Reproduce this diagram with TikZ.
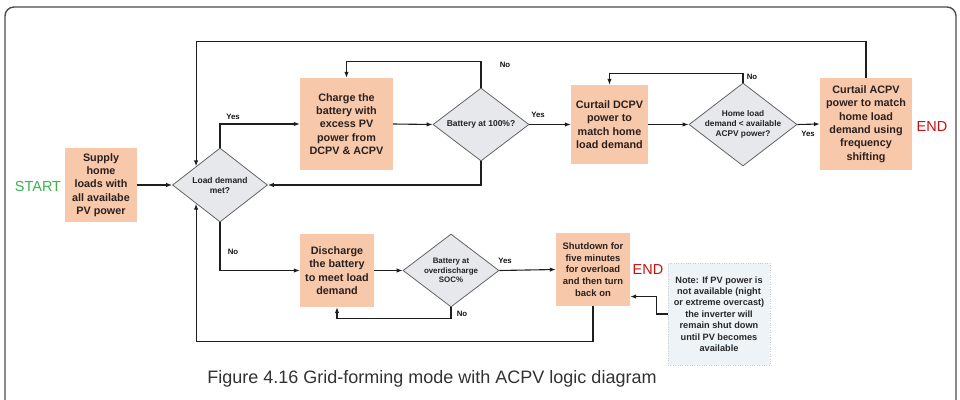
\documentclass[tikz,border=0pt]{standalone}
\usepackage{fontspec}
\setmainfont{Liberation Sans}
\usetikzlibrary{shapes.geometric,arrows.meta,calc}

\begin{document}
\begin{tikzpicture}[x=1pt,y=1pt,yscale=-1,xscale=1,
	procbox/.style={fill={rgb, 255:red, 247; green, 200; blue, 170 }, inner sep=0pt, align=center, text={rgb, 255:red, 42; green, 32; blue, 32 }, font=\bfseries\fontsize{10.8}{13.3}\selectfont},
	decision/.style={shape=diamond, draw={rgb, 255:red, 100; green, 100; blue, 100 }, line width=0.8pt, fill={rgb, 255:red, 231; green, 232; blue, 235 }, inner sep=-3pt, align=center, text={rgb, 255:red, 35; green, 35; blue, 35 }, font=\bfseries\fontsize{8.5}{10}\selectfont},
	notebox/.style={fill={rgb, 255:red, 238; green, 243; blue, 248 }, draw={rgb, 255:red, 205; green, 205; blue, 205 }, dotted, inner sep=0pt, align=center, text={rgb, 255:red, 40; green, 40; blue, 40 }, font=\bfseries\fontsize{9.2}{11.4}\selectfont},
	flow/.style={draw={rgb, 255:red, 30; green, 30; blue, 30 }, line width=1.1pt, -{Latex[length=6pt,width=4.5pt]}},
	answer/.style={inner sep=0.75pt, text={rgb, 255:red, 20; green, 20; blue, 20 }, font=\bfseries\fontsize{7.8}{9}\selectfont},
	endmark/.style={inner sep=0.75pt, text={rgb, 255:red, 200; green, 16; blue, 16 }, font=\fontsize{14.5}{16}\selectfont}
	]
	\useasboundingbox (0,0) rectangle (960,399);
	
	%Shape: Rounded Rect
	\draw [color={rgb, 255:red, 75; green, 75; blue, 75 }, line width=1.4pt, rounded corners=9pt] (5,7) rectangle (956,420);
	
	%Shape: Rectangle
	\draw (101,185) node [procbox, minimum width=72pt, minimum height=74pt] (supply) {Supply\\home\\loads with\\all availabe\\PV power};
	%Shape: Rectangle
	\draw (346.5,124) node [procbox, minimum width=93pt, minimum height=92pt] (charge) {Charge the\\battery with\\excess PV\\power from\\DCPV \& ACPV};
	%Shape: Rectangle
	\draw (609.5,124.5) node [procbox, minimum width=77pt, minimum height=79pt] (dcpv) {Curtail DCPV\\power to\\match home\\load demand};
	%Shape: Rectangle
	\draw (866,124) node [procbox, minimum width=92pt, minimum height=92pt] (acpv) {Curtail ACPV\\power to match\\home load\\demand using\\frequency\\shifting};
	%Shape: Rectangle
	\draw (337,270.5) node [procbox, minimum width=74pt, minimum height=73pt] (discharge) {Discharge\\the battery\\to meet load\\demand};
	%Shape: Rectangle
	\draw (593,269.5) node [procbox, minimum width=74pt, minimum height=73pt, font=\bfseries\fontsize{9.4}{11.7}\selectfont] (shutdown) {Shutdown for\\five minutes\\for overload\\and then turn\\back on};
	%Shape: Rectangle
	\draw (719,314) node [notebox, minimum width=102pt, minimum height=102pt] (note) {Note: If PV power is\\not available (night\\or extreme overcast)\\the inverter will\\remain shut down\\until PV becomes\\available};
	
	%Shape: Diamond
	\draw (220,185) node [decision, minimum width=95pt, minimum height=74pt] (ld) {Load demand\\met?};
	%Shape: Diamond
	\draw (481,124.5) node [decision, minimum width=96pt, minimum height=73pt] (full) {Battery at 100\%?};
	%Shape: Diamond
	\draw (743,124.5) node [decision, minimum width=108pt, minimum height=83pt, inner sep=-6.5pt, font=\bfseries\fontsize{8.3}{10}\selectfont] (homeload) {Home load\\demand < available\\ACPV power?};
	%Shape: Diamond
	\draw (451,270.5) node [decision, minimum width=96pt, minimum height=73pt, font=\bfseries\fontsize{7.9}{9.6}\selectfont] (overdis) {Battery at\\overdischarge\\SOC\%};
	
	\coordinate (ldin) at ($(ld.west)!0.5!(ld.north)$);
	\coordinate (ldout) at ($(ld.west)!0.5!(ld.south)$);
	
	%Straight Lines
	\draw [flow] (supply.east) -- (ld.west);
	\draw [flow] (ld.north) |- (charge.west);
	\draw [flow] (charge.east) -- (full.west);
	\draw [flow] (full.north) -- ++(0,-26) -| (charge.north);
	\draw [flow] (full.south) |- (ld.east);
	\draw [flow] (full.east) -- (dcpv.west);
	\draw [flow] (dcpv.east) -- (homeload.west);
	\draw [flow] (homeload.north) -- ++(0,-9) -| (dcpv.north);
	\draw [flow] (homeload.east) -- (acpv.west);
	\draw [flow] (acpv.north) -- ++(0,-36) -| (ldin);
	\draw [flow] (ld.south) |- (discharge.west);
	\draw [flow] (discharge.east) -- (overdis.west);
	\draw [flow] (overdis.east) -- (shutdown.west);
	\draw [flow] (overdis.south) -- ++(0,11) -| (discharge.south);
	\draw [flow] (shutdown.south) -- ++(0,35) -| (ldout);
	\draw [flow] (note.west) -- ++(-11,0) |- (shutdown.-36.6);
	
	% Text Node
	\draw (38,187) node [inner sep=0.75pt, text={rgb, 255:red, 60; green, 178; blue, 75 }, font=\fontsize{14.5}{16}\selectfont] (start) {START};
	% Text Node
	\draw (932,127) node [endmark] (endtop) {END};
	% Text Node
	\draw (648,270) node [endmark] (endbottom) {END};
	% Text Node
	\draw (233,117) node [answer] (yesld) {Yes};
	% Text Node
	\draw (538,115) node [answer] (yesfull) {Yes};
	% Text Node
	\draw (808,134) node [answer] (yeshome) {Yes};
	% Text Node
	\draw (505,261) node [answer] (yesover) {Yes};
	% Text Node
	\draw (505,65) node [answer] (nofull) {No};
	% Text Node
	\draw (752,77) node [answer] (nohome) {No};
	% Text Node
	\draw (233,252) node [answer] (nold) {No};
	% Text Node
	\draw (462,314) node [answer] (noover) {No};
	% Text Node
	\draw (432,379) node [inner sep=0.75pt, text={rgb, 255:red, 50; green, 50; blue, 50 }, font=\fontsize{18}{20}\selectfont] (caption) {Figure 4.16 Grid-forming mode with ACPV logic diagram};
\end{tikzpicture}
\end{document}
